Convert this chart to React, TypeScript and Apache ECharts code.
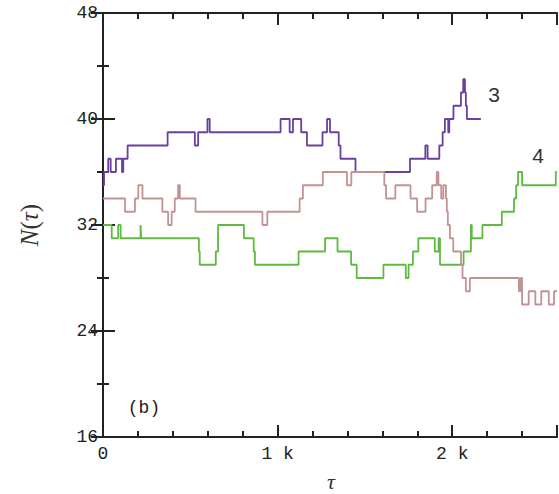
import React, { useEffect, useRef } from 'react';
import * as echarts from 'echarts';

// Series "3" (purple)
const purpleTau = [0, 6, 30, 44, 74, 109, 116, 141, 370, 526, 545, 598, 611, 1017, 1069, 1088, 1135, 1168, 1257, 1283, 1300, 1350, 1360, 1446, 1758, 1846, 1859, 1926, 1945, 1958, 1977, 1983, 2007, 2050, 2063, 2073, 2078, 2084, 2164];
const purpleN = [35, 36, 37, 36, 37, 36, 37, 38, 39, 38, 39, 40, 39, 40, 39, 40, 39, 38, 39, 40, 39, 38, 37, 36, 37, 38, 37, 38, 39, 40, 39, 40, 41, 42, 43, 42, 41, 40, 40];

// Series (pink)
const pinkTau = [0, 126, 183, 202, 226, 340, 373, 393, 411, 430, 440, 530, 913, 941, 1126, 1145, 1259, 1397, 1422, 1611, 1621, 1674, 1761, 1799, 1847, 1885, 1911, 1921, 1937, 1949, 1964, 1969, 1975, 1987, 2006, 2050, 2059, 2078, 2101, 2382, 2392, 2400, 2438, 2476, 2510, 2553, 2583, 2600];
const pinkN = [34, 33, 34, 35, 34, 33, 32, 33, 34, 35, 34, 33, 32, 33, 34, 35, 36, 35, 36, 35, 34, 35, 34, 33, 34, 35, 36, 35, 34, 35, 34, 33, 32, 31, 30, 29, 28, 27, 28, 27, 28, 26, 27, 26, 27, 26, 27, 27];

// Series "4" (green)
const greenTau = [0, 50, 87, 101, 215, 219, 549, 554, 646, 659, 807, 863, 870, 1120, 1272, 1343, 1421, 1453, 1606, 1734, 1750, 1775, 1806, 1900, 1922, 1930, 2065, 2107, 2112, 2173, 2284, 2354, 2366, 2377, 2400, 2593, 2600];
const greenN = [32, 31, 32, 31, 32, 31, 30, 29, 30, 32, 31, 30, 29, 30, 31, 30, 29, 28, 29, 28, 29, 30, 31, 30, 31, 29, 30, 32, 31, 32, 33, 34, 35, 36, 35, 36, 36];

const xMajorLabels: Record<number, string> = { 0: '0', 1000: '1 k', 2000: '2 k' };
const yTicks = [16, 24, 32, 40, 48];

const zip = (a: number[], b: number[]) => a.map((v, i) => [v, b[i]]);

export default function App() {
  const ref = useRef<HTMLDivElement>(null);
  useEffect(() => {
    const chart = echarts.init(ref.current!, undefined, { renderer: 'svg' });
    const ink = '#222';
    const mono = '"Liberation Mono", "DejaVu Sans Mono", monospace';
    const line = { show: true, lineStyle: { color: ink, width: 2 } };
    const noLine = { show: false };
    const tick = (len: number) => ({ show: true, inside: true, length: len, lineStyle: { color: ink, width: 2 } });
    const minor = { show: true, splitNumber: 2, length: 6, lineStyle: { color: ink, width: 2 } };
    const xBase: any = { type: 'value', min: 0, max: 2600, splitLine: { show: false }, minorSplitLine: { show: false } };
    const yBase: any = { type: 'value', min: yTicks[0], max: yTicks[yTicks.length - 1], interval: 8, splitLine: { show: false }, minorSplitLine: { show: false } };
    const noLabel = { show: false };
    const g = { left: 103, right: 2, top: 13, bottom: 57, containLabel: false, outerBoundsMode: 'none' };
    const mk = (name: string, tau: number[], n: number[], color: string) => ({
      type: 'line',
      name,
      step: 'end',
      showSymbol: false,
      symbol: 'none',
      data: zip(tau, n),
      lineStyle: { color, width: 1.8 },
      itemStyle: { color },
      xAxisIndex: 0,
      yAxisIndex: 0,
    });
    chart.setOption({
      animation: false,
      grid: [g, g],
      xAxis: [
        {
          ...xBase, gridIndex: 0, position: 'bottom', interval: 1000, axisLine: line, axisTick: tick(12),
          axisLabel: {
            formatter: (v: number) => xMajorLabels[v] ?? '',
            fontFamily: mono, fontSize: 18, color: ink, margin: 8,
          },
        },
        { ...xBase, gridIndex: 1, position: 'bottom', interval: 200, axisLine: noLine, axisTick: tick(6), axisLabel: noLabel },
        { ...xBase, gridIndex: 0, position: 'top', interval: 1000, axisLine: line, axisTick: tick(12), axisLabel: noLabel },
        { ...xBase, gridIndex: 1, position: 'top', interval: 200, axisLine: noLine, axisTick: tick(6), axisLabel: noLabel },
      ],
      yAxis: [
        {
          ...yBase, gridIndex: 0, position: 'left', axisLine: line, axisTick: tick(12), minorTick: minor,
          axisLabel: { fontFamily: mono, fontSize: 18, color: ink, margin: 5 },
        },
        { ...yBase, gridIndex: 1, position: 'left', axisLine: noLine, axisTick: { show: false }, axisLabel: noLabel },
        { ...yBase, gridIndex: 0, position: 'right', axisLine: line, axisTick: tick(12), minorTick: minor, axisLabel: noLabel },
      ],
      series: [
        mk('3', purpleTau, purpleN, '#6b3fa0'),
        mk('4', greenTau, greenN, '#5fba40'),
        mk('p', pinkTau, pinkN, '#c29393'),
      ],
      graphic: [
        {
          type: 'text', x: 494, y: 94,
          style: { text: '3', fontSize: 21, fontFamily: '"Liberation Sans", sans-serif', fill: '#333', align: 'center', verticalAlign: 'middle', textAlign: 'center', textVerticalAlign: 'middle' },
        },
        {
          type: 'text', x: 538, y: 155,
          style: { text: '4', fontSize: 21, fontFamily: '"Liberation Sans", sans-serif', fill: '#333', align: 'center', verticalAlign: 'middle', textAlign: 'center', textVerticalAlign: 'middle' },
        },
        {
          type: 'text', x: 144, y: 408,
          style: { text: '(b)', fontSize: 18, fontFamily: mono, fill: ink, align: 'center', verticalAlign: 'middle', textAlign: 'center', textVerticalAlign: 'middle' },
        },
        {
          type: 'text', x: 29, y: 225, rotation: Math.PI / 2,
          style: {
            text: '{i|N}{r|(}{i|τ}{r|)}',
            rich: {
              i: { fontSize: 25, fontStyle: 'italic', fontFamily: '"Liberation Serif", serif', fill: '#333' },
              r: { fontSize: 25, fontFamily: '"Liberation Serif", serif', fill: '#333' },
            },
            fill: '#333', align: 'center', verticalAlign: 'middle', textAlign: 'center', textVerticalAlign: 'middle',
          },
        },
        {
          type: 'text', x: 331, y: 481,
          style: { text: 'τ', fontSize: 22, fontStyle: 'italic', fontFamily: '"Liberation Serif", serif', fill: '#333', align: 'center', verticalAlign: 'middle', textAlign: 'center', textVerticalAlign: 'middle' },
        },
      ],
    });
    return () => chart.dispose();
  }, []);
  return <div ref={ref} style={{ position: 'absolute', left: 0, top: 0, width: 559, height: 494 }} />;
}
